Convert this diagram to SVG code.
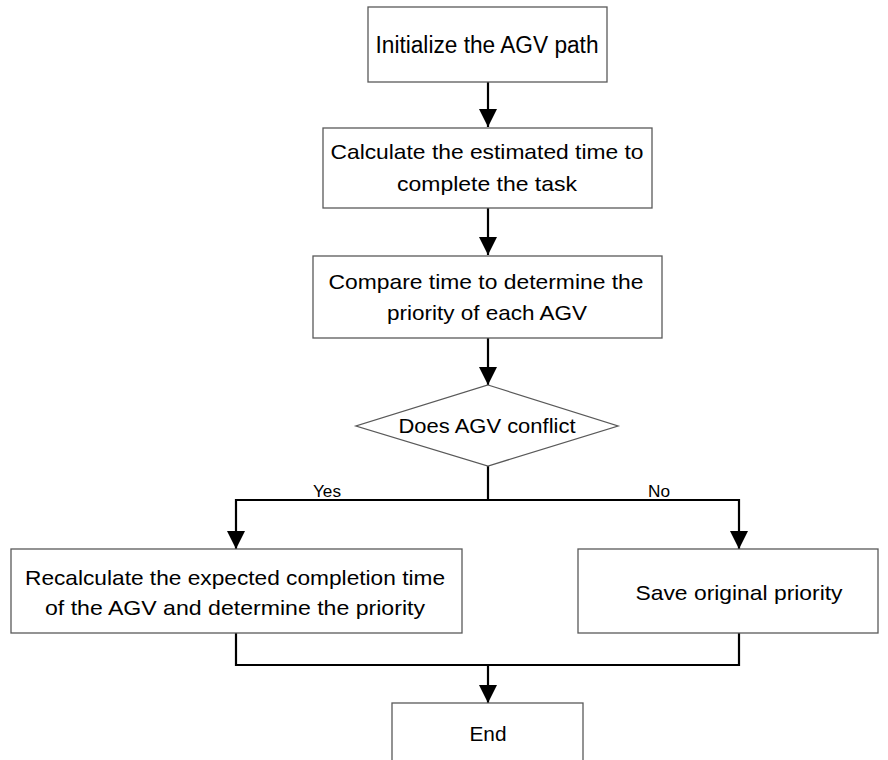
<svg xmlns="http://www.w3.org/2000/svg" width="888" height="760" viewBox="0 0 888 760">
<style>
.box{fill:#fff;stroke:#595959;stroke-width:1.3}
.t{font-family:"Liberation Sans","Open Sans",sans-serif;font-size:21px;fill:#000}
.lbl{font-family:"Liberation Sans","Open Sans",sans-serif;font-size:17px;fill:#000}
.c{fill:none;stroke:#000;stroke-width:2.2}
</style>
<defs>
<marker id="ah" viewBox="0 0 18 18" refX="18" refY="9" markerWidth="18" markerHeight="18" markerUnits="userSpaceOnUse" orient="auto">
<path d="M0,0 L18,9 L0,18 Z" fill="#000"/>
</marker>
</defs>
<rect width="888" height="760" fill="#fff"/>
<g id="connectors">
<line class="c" x1="488" y1="82" x2="488" y2="127" marker-end="url(#ah)"/>
<line class="c" x1="488" y1="208" x2="488" y2="255" marker-end="url(#ah)"/>
<line class="c" x1="488" y1="338" x2="488" y2="385" marker-end="url(#ah)"/>
<polyline class="c" points="488,466 488,500 236,500 236,549" marker-end="url(#ah)"/>
<polyline class="c" points="488,500 739,500 739,549" marker-end="url(#ah)"/>
<polyline class="c" points="236,633 236,665 739,665 739,633"/>
<line class="c" x1="488" y1="665" x2="488" y2="703" marker-end="url(#ah)"/>
<text class="lbl" x="327" y="497" text-anchor="middle" textLength="28" lengthAdjust="spacingAndGlyphs">Yes</text>
<text class="lbl" x="659" y="497" text-anchor="middle" textLength="22" lengthAdjust="spacingAndGlyphs">No</text>
</g>
<g id="n1">
<rect class="box" x="368" y="7" width="239" height="75"/>
<text class="t" x="487" y="53" text-anchor="middle" textLength="223" lengthAdjust="spacingAndGlyphs" style="font-size:23px">Initialize the AGV path</text>
</g>
<g id="n2">
<rect class="box" x="323" y="128" width="329" height="80"/>
<text class="t" x="487" y="159" text-anchor="middle" textLength="313" lengthAdjust="spacingAndGlyphs">Calculate the estimated time to</text>
<text class="t" x="487" y="191" text-anchor="middle" textLength="180" lengthAdjust="spacingAndGlyphs">complete the task</text>
</g>
<g id="n3">
<rect class="box" x="313" y="256" width="349" height="82"/>
<text class="t" x="486" y="289" text-anchor="middle" textLength="315" lengthAdjust="spacingAndGlyphs">Compare time to determine the</text>
<text class="t" x="487" y="320" text-anchor="middle" textLength="200" lengthAdjust="spacingAndGlyphs">priority of each AGV</text>
</g>
<g id="n4">
<polygon class="box" points="488,385 618,426 488,466 356,426"/>
<text class="t" x="487" y="433" text-anchor="middle" textLength="177" lengthAdjust="spacingAndGlyphs">Does AGV conflict</text>
</g>
<g id="n5">
<rect class="box" x="11" y="549" width="451" height="84"/>
<text class="t" x="235" y="585" text-anchor="middle" textLength="420" lengthAdjust="spacingAndGlyphs">Recalculate the expected completion time</text>
<text class="t" x="235" y="615" text-anchor="middle" textLength="380" lengthAdjust="spacingAndGlyphs">of the AGV and determine the priority</text>
</g>
<g id="n6">
<rect class="box" x="578" y="549" width="300" height="84"/>
<text class="t" x="739" y="600" text-anchor="middle" textLength="207" lengthAdjust="spacingAndGlyphs">Save original priority</text>
</g>
<g id="n7">
<rect class="box" x="392" y="703" width="191" height="70"/>
<text class="t" x="488" y="741" text-anchor="middle" textLength="37" lengthAdjust="spacingAndGlyphs">End</text>
</g>
</svg>
